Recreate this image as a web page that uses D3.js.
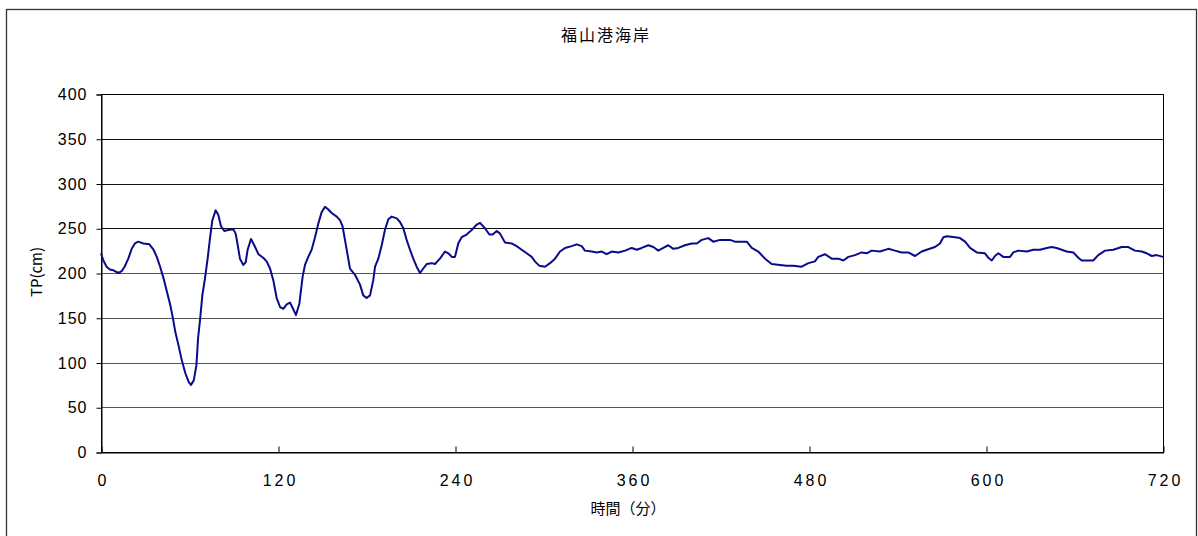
<!DOCTYPE html>
<html><head><meta charset="utf-8">
<script src="https://cdn.jsdelivr.net/npm/d3@7"></script>
<style>
html,body{margin:0;padding:0;background:#fff;}
svg{display:block;}
text{font-family:"Noto Sans CJK JP","DejaVu Sans",sans-serif;fill:#000;}
</style></head><body>
<svg id="c" width="1198" height="536"></svg>
<script>
const title = "福山港海岸";
const xLabel = "時間（分）";
const yLabel = "TP(cm)";
const xTicks = [0,120,240,360,480,600,720];
const yTicks = [0,50,100,150,200,250,300,350,400];
const times = [0,1.6,3.8,6,8.4,11.8,14,16,18.5,20.8,23,25.3,28.7,32.8,35.6,37.8,40.1,42.4,44.7,47,48.8,50.4,52.7,55,57.2,59.5,61,62.9,64.7,65.8,67.3,68.7,70.5,72.3,73.9,75.5,77.7,79.5,81.4,83.6,86.3,89.7,91.3,92.7,94.2,96.5,98.1,99.4,101.7,103.9,106.7,110,112.3,114.6,116.8,119.1,121.4,123.6,125.9,128.1,130.2,132.2,134.5,136.7,138.3,140.5,142.8,145.1,147.3,149.6,151.9,154.1,156.4,159.8,162,163.8,165.4,167,168.8,172.2,175.6,177.8,180.1,182.4,184.6,185.8,188,190.3,192.5,194.8,197.1,200.5,202.7,205,207.2,209.5,211.7,214,216.3,218.5,220.8,224.2,226.4,229.8,233.2,235.5,237.8,240,242.2,244.5,247.9,251.3,254.7,257,260.3,263.3,265.5,268.3,270.5,273.9,278.4,281.8,285.2,288.6,292,294.2,297.2,301,304.4,307.8,311.2,314.6,319.1,322.5,325.9,328.1,332.7,336,339.5,342.8,346.2,350.7,355.3,359.8,363.2,366.6,371.1,374.5,377.8,381.2,384.6,388,391.4,395.9,400.5,403.9,407.3,411.7,415.1,419.7,426.4,429.8,437.8,441.2,445.6,450.2,454.7,460.3,464.9,469.4,475,479.6,484,486.3,490.8,495.4,499.9,503.3,506.7,511.2,515.7,519.1,522.5,528.1,533.8,538.3,542.8,547.3,551.9,556.4,559.8,565.4,568.8,571.1,573.4,579,582.4,585.8,589.2,593.7,599.3,601.6,603.9,606.1,608.4,611.7,616.3,618.5,621.9,627.6,632.1,636.6,641.2,644.5,647.9,651.3,654.7,659.2,662.6,664.9,668.3,672.7,676.1,680.7,686.3,692,696.5,701,705.6,709,712.4,715.7,720];
const values = [222,214,207,204,203,200,202,207,216,227,233,235,233,232,226,218,207,194,179,164,149,134,118,101,88,78,75,80,97,127,150,175,194,216,239,259,270,265,252,247,248,249,244,231,216,209,212,226,238,231,221,217,213,205,192,172,162,160,165,167,160,153,166,196,209,218,226,240,255,268,274,271,267,263,259,252,237,222,205,198,187,175,172,175,192,207,216,231,248,260,263,261,257,250,237,226,216,207,200,205,210,211,210,216,224,222,218,218,233,240,243,248,254,256,250,243,243,247,244,234,233,230,226,222,218,213,208,207,211,216,224,228,230,232,230,225,224,223,224,221,224,223,225,228,226,228,231,229,225,228,231,227,228,231,233,233,237,239,235,237,237,235,235,228,224,216,210,209,208,208,207,211,213,218,221,216,216,214,218,220,223,222,225,224,227,225,223,223,219,224,226,229,233,240,241,240,239,235,228,223,222,217,214,219,222,218,218,223,225,224,226,226,228,229,228,226,224,223,217,214,214,214,220,225,226,229,229,225,224,222,219,220,218];

const svg = d3.select("#c");
svg.append("rect").attr("x",6.5).attr("y",9.5).attr("width",1190).attr("height",540)
  .attr("fill","none").attr("stroke","#333").attr("stroke-width",1.3);

const L=101, R=1163, T=94, B=452;
const x = d3.scaleLinear().domain([0,720]).range([L,R]);
const y = d3.scaleLinear().domain([0,400]).range([B,T]);

// gridlines
svg.append("g").selectAll("line").data(yTicks).join("line")
  .attr("x1",L).attr("x2",R).attr("y1",d=>Math.round(y(d))+0.5).attr("y2",d=>Math.round(y(d))+0.5)
  .attr("stroke",d=>d>=250?"#111":"#555").attr("stroke-width",1);
// plot border
svg.append("rect").attr("x",L+0.5).attr("y",T+0.5).attr("width",R-L).attr("height",B-T)
  .attr("fill","none").attr("stroke","#000").attr("stroke-width",1);

// y axis
const yAxis = d3.axisLeft(y).tickValues(yTicks).tickSize(5).tickPadding(10);
const gy = svg.append("g").attr("transform",`translate(${L+0.5},0.5)`).call(yAxis);
gy.select(".domain").attr("stroke","#000");
gy.selectAll(".tick line").attr("stroke","#000");
gy.selectAll("text").style("font-size","16px").style("font-family",'"Liberation Sans","DejaVu Sans",sans-serif').style("letter-spacing","1px").attr("dx","1px");

// x axis (ticks inward)
const xAxis = d3.axisBottom(x).tickValues(xTicks).tickSizeInner(-6).tickSizeOuter(0).tickPadding(22);
const gx = svg.append("g").attr("transform",`translate(0.5,${B+0.5})`).call(xAxis);
gx.select(".domain").attr("stroke","#000");
gx.selectAll(".tick line").attr("stroke","#000");
gx.selectAll("text").style("font-size","16px").style("font-family",'"Liberation Sans","DejaVu Sans",sans-serif').style("letter-spacing","3px").attr("dx","1.5px");

// line
const line = d3.line().x((d,i)=>x(times[i])).y(d=>y(d)).curve(d3.curveLinear);
svg.append("path").datum(values).attr("d",line).attr("fill","none")
  .attr("stroke","#0a0a8a").attr("stroke-width",2).attr("stroke-linejoin","round");

// titles
svg.append("text").attr("x",606).attr("y",41).attr("text-anchor","middle").style("font-size","16px").style("letter-spacing","2px").text(title);
svg.append("text").attr("x",628).attr("y",514).attr("text-anchor","middle").style("font-size","15px").text(xLabel);
svg.append("text").attr("transform","translate(42,272) rotate(-90)").attr("text-anchor","middle").style("font-size","15px").text(yLabel);
</script></body></html>
